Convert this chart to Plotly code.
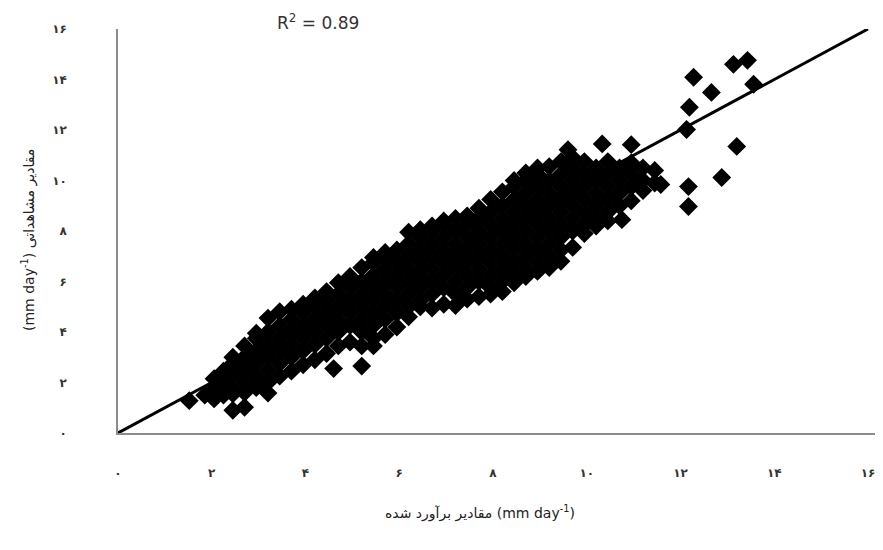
import plotly.graph_objects as go

# Estimated (x) vs observed (y) values, mm/day
estimated = [
    1.52,
    1.85,
    2.05, 2.05, 2.05,
    2.25, 2.25, 2.25,
    2.45, 2.45, 2.45, 2.45, 2.45, 2.45,
    2.70, 2.70, 2.70, 2.70, 2.70, 2.70,
    2.95, 2.95, 2.95, 2.95, 2.95, 2.95,
    3.20, 3.20, 3.20, 3.20, 3.20, 3.20, 3.20,
    3.45, 3.45, 3.45, 3.45, 3.45, 3.45,
    3.70, 3.70, 3.70, 3.70, 3.70, 3.70,
    3.95, 3.95, 3.95, 3.95, 3.95, 3.95,
    4.20, 4.20, 4.20, 4.20, 4.20, 4.20,
    4.45, 4.45, 4.45, 4.45, 4.45, 4.45,
    4.60,
    4.70, 4.70, 4.70, 4.70, 4.70, 4.70,
    4.95, 4.95, 4.95, 4.95, 4.95, 4.95,
    5.20, 5.20, 5.20, 5.20, 5.20, 5.20, 5.20, 5.20,
    5.45, 5.45, 5.45, 5.45, 5.45, 5.45, 5.45, 5.45, 5.45,
    5.70, 5.70, 5.70, 5.70, 5.70, 5.70, 5.70, 5.70,
    5.95, 5.95, 5.95, 5.95, 5.95, 5.95, 5.95,
    6.20, 6.20, 6.20, 6.20, 6.20, 6.20, 6.20, 6.20,
    6.45, 6.45, 6.45, 6.45, 6.45, 6.45, 6.45, 6.45,
    6.70, 6.70, 6.70, 6.70, 6.70, 6.70, 6.70, 6.70,
    6.95, 6.95, 6.95, 6.95, 6.95, 6.95, 6.95, 6.95,
    7.20, 7.20, 7.20, 7.20, 7.20, 7.20, 7.20, 7.20,
    7.45, 7.45, 7.45, 7.45, 7.45, 7.45, 7.45, 7.45,
    7.70, 7.70, 7.70, 7.70, 7.70, 7.70, 7.70, 7.70,
    7.95, 7.95, 7.95, 7.95, 7.95, 7.95, 7.95, 7.95, 7.95,
    8.20, 8.20, 8.20, 8.20, 8.20, 8.20, 8.20, 8.20, 8.20,
    8.45, 8.45, 8.45, 8.45, 8.45, 8.45, 8.45, 8.45, 8.45, 8.45,
    8.70, 8.70, 8.70, 8.70, 8.70, 8.70, 8.70, 8.70, 8.70, 8.70,
    8.95, 8.95, 8.95, 8.95, 8.95, 8.95, 8.95, 8.95, 8.95, 8.95,
    9.20, 9.20, 9.20, 9.20, 9.20, 9.20, 9.20, 9.20, 9.20,
    9.45, 9.45, 9.45, 9.45, 9.45, 9.45, 9.45, 9.45, 9.45, 9.60,
    9.70, 9.70, 9.70, 9.70, 9.70, 9.70, 9.70, 9.70,
    9.95, 9.95, 9.95, 9.95, 9.95, 9.95, 9.95,
    10.20, 10.20, 10.20, 10.20, 10.20, 10.20,
    10.33,
    10.45, 10.45, 10.45, 10.45, 10.45, 10.45,
    10.75, 10.70, 10.70, 10.70, 10.70,
    10.95, 10.95, 10.95, 10.95, 10.95,
    11.20, 11.20, 11.20,
    11.45, 11.45,
    11.58,
    12.28, 12.66, 13.13, 13.43, 13.56, 12.19, 12.13, 13.20, 12.88, 12.17, 12.17,
]

observed = [
    1.28,
    1.50,
    1.35, 1.75, 2.15,
    1.50, 2.00, 2.45,
    0.90, 1.55, 1.75, 2.25, 2.75, 3.00,
    1.02, 1.60, 2.00, 2.50, 3.00, 3.45,
    1.80, 2.25, 2.75, 3.25, 3.75, 3.95,
    1.58, 2.00, 2.50, 3.00, 3.50, 4.00, 4.55,
    2.25, 2.75, 3.25, 3.75, 4.25, 4.80,
    2.45, 3.00, 3.50, 4.00, 4.50, 4.90,
    2.70, 3.25, 3.75, 4.25, 4.75, 5.10,
    2.90, 3.50, 4.00, 4.50, 5.00, 5.35,
    3.15, 3.75, 4.25, 4.75, 5.25, 5.60,
    2.55,
    3.45, 4.00, 4.50, 5.00, 5.50, 5.95,
    3.60, 4.25, 4.75, 5.25, 5.75, 6.20,
    2.65, 3.45, 4.00, 4.50, 5.00, 5.50, 6.00, 6.55,
    3.45, 3.75, 4.25, 4.75, 5.25, 5.75, 6.25, 6.75, 6.95,
    3.90, 4.50, 5.00, 5.50, 6.00, 6.50, 7.00, 7.15,
    4.20, 4.75, 5.25, 5.75, 6.25, 6.75, 7.25,
    4.60, 5.00, 5.50, 6.00, 6.50, 7.00, 7.50, 7.95,
    5.00, 5.25, 5.75, 6.25, 6.75, 7.25, 7.75, 8.05,
    4.95, 5.50, 6.00, 6.50, 7.00, 7.50, 8.00, 8.20,
    5.10, 5.75, 6.25, 6.75, 7.25, 7.75, 8.25, 8.40,
    5.05, 5.50, 6.00, 6.50, 7.00, 7.50, 8.00, 8.50,
    5.30, 5.75, 6.25, 6.75, 7.25, 7.75, 8.25, 8.60,
    5.40, 6.00, 6.50, 7.00, 7.50, 8.00, 8.50, 8.90,
    5.50, 5.75, 6.25, 6.75, 7.25, 7.75, 8.25, 8.75, 9.25,
    5.60, 6.00, 6.50, 7.00, 7.50, 8.00, 8.50, 9.00, 9.55,
    5.95, 6.25, 6.75, 7.25, 7.75, 8.25, 8.75, 9.25, 9.75, 10.00,
    6.20, 6.50, 7.00, 7.50, 8.00, 8.50, 9.00, 9.50, 10.00, 10.30,
    6.40, 6.75, 7.25, 7.75, 8.25, 8.75, 9.25, 9.75, 10.25, 10.50,
    6.55, 7.00, 7.50, 8.00, 8.50, 9.00, 9.50, 10.00, 10.55,
    6.80, 7.25, 7.75, 8.25, 8.75, 9.25, 9.75, 10.25, 10.75, 11.22,
    7.35, 8.00, 8.50, 9.00, 9.50, 10.00, 10.50, 10.90,
    7.90, 8.25, 8.75, 9.25, 9.75, 10.25, 10.75,
    8.20, 8.50, 9.00, 9.50, 10.00, 10.50,
    11.45,
    8.40, 8.75, 9.25, 9.75, 10.25, 10.75,
    8.45, 9.00, 9.50, 10.00, 10.50,
    9.20, 9.75, 10.25, 10.70, 11.42,
    9.60, 10.00, 10.50,
    9.90, 10.40,
    9.84,
    14.09, 13.49, 14.60, 14.76, 13.81, 12.90, 12.02, 11.35, 10.12, 9.76, 8.97,
]

assert len(estimated) == len(observed)

# 1:1 reference line
line_x = [0, 16]
line_y = [0, 16]

tick_vals = [0, 2, 4, 6, 8, 10, 12, 14, 16]
tick_text = ["۰", "۲", "۴", "۶", "۸", "۱۰", "۱۲", "۱۴", "۱۶"]

r2_text = "R<sup>2</sup> = 0.89"
x_title = "مقادیر برآورد شده (mm day<sup>-1</sup>)"
y_title = "(mm day<sup>-1</sup>) مقادیر مشاهداتی"

fig = go.Figure()
fig.add_trace(go.Scatter(
    x=estimated, y=observed, mode="markers",
    marker=dict(symbol="diamond", size=14.5, color="black", line=dict(width=0)),
    showlegend=False, hoverinfo="x+y",
))
fig.add_trace(go.Scatter(
    x=line_x, y=line_y, mode="lines",
    line=dict(color="black", width=3),
    showlegend=False, hoverinfo="skip",
))

axis_common = dict(
    showgrid=False, zeroline=False, showline=True,
    linecolor="#8c8c8c", linewidth=1.5, ticks="",
    tickvals=tick_vals, ticktext=tick_text,
    tickfont=dict(family="DejaVu Sans", size=12, color="#333333", weight="bold"),
    fixedrange=True, automargin=False,
)

# The page body adds an 8px offset, so the figure is 8px smaller and the
# left/top margins are 8px less to keep the plot area at the same spot.
fig.update_layout(
    width=875, height=542,
    margin=dict(l=110, r=8, t=21, b=117),
    paper_bgcolor="white", plot_bgcolor="white",
    xaxis=dict(range=[0, 16.15], ticklabelstandoff=28, **axis_common),
    yaxis=dict(range=[0, 16], ticklabelstandoff=47, **axis_common),
    annotations=[
        dict(text=r2_text, xref="paper", yref="paper",
             x=(275 - 118) / 757, y=(433 - 22) / 404,
             xanchor="left", yanchor="middle", showarrow=False,
             font=dict(family="DejaVu Sans", size=17, color="#333333")),
        dict(text=x_title, xref="paper", yref="paper",
             x=(480 - 118) / 757, y=(433 - 512) / 404,
             xanchor="center", yanchor="middle", showarrow=False,
             font=dict(family="DejaVu Sans", size=14, color="#222222")),
        dict(text=y_title, xref="paper", yref="paper",
             x=(28 - 118) / 757, y=(433 - 240) / 404,
             xanchor="center", yanchor="middle", showarrow=False,
             textangle=-90,
             font=dict(family="DejaVu Sans", size=14, color="#222222")),
    ],
)

fig.write_html("out.html")
